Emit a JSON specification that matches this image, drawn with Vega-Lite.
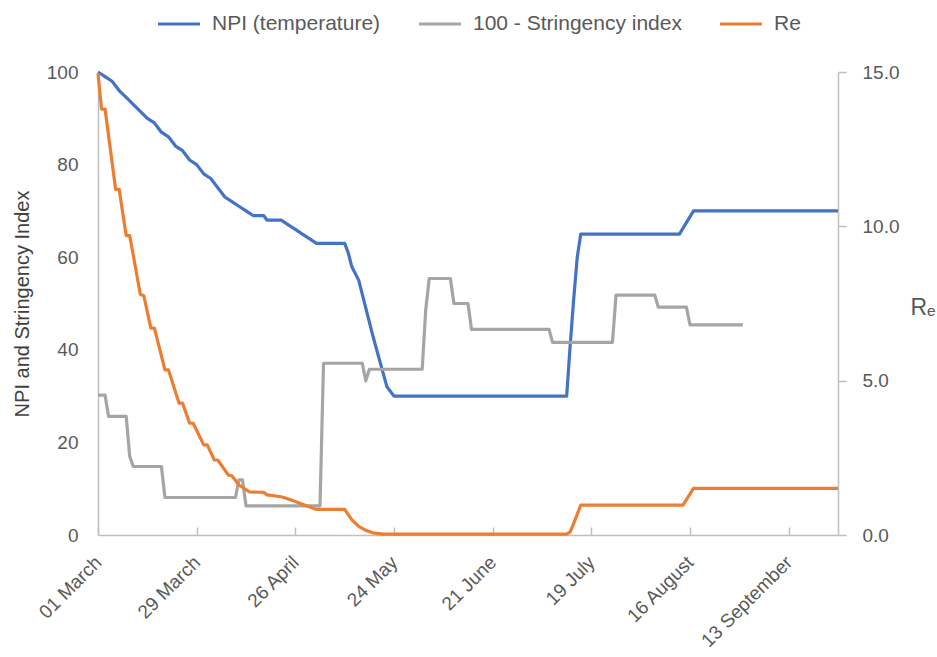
{
  "$schema": "https://vega.github.io/schema/vega-lite/v6.json",
  "width": 740,
  "height": 463,
  "autosize": {"type": "none"},
  "padding": {"left": 98, "top": 72, "right": 99, "bottom": 122},
  "background": "white",
  "config": {
    "font": "Liberation Sans",
    "view": {"stroke": null},
    "axis": {"grid": false, "domainColor": "#bfbfbf", "domainWidth": 1.5, "tickColor": "#bfbfbf", "tickWidth": 1.5, "labelColor": "#595959", "labelFontSize": 19, "titleFontWeight": "normal", "titleFontSize": 20}
  },
  "data": {"values": [
    {"d": "2020-03-01", "s": "NPI (temperature)", "v": 100},
    {"d": "2020-03-03", "s": "NPI (temperature)", "v": 99},
    {"d": "2020-03-05", "s": "NPI (temperature)", "v": 98},
    {"d": "2020-03-07", "s": "NPI (temperature)", "v": 96},
    {"d": "2020-03-09", "s": "NPI (temperature)", "v": 94.5},
    {"d": "2020-03-11", "s": "NPI (temperature)", "v": 93},
    {"d": "2020-03-13", "s": "NPI (temperature)", "v": 91.5},
    {"d": "2020-03-15", "s": "NPI (temperature)", "v": 90},
    {"d": "2020-03-17", "s": "NPI (temperature)", "v": 89},
    {"d": "2020-03-19", "s": "NPI (temperature)", "v": 87},
    {"d": "2020-03-21", "s": "NPI (temperature)", "v": 86},
    {"d": "2020-03-23", "s": "NPI (temperature)", "v": 84},
    {"d": "2020-03-25", "s": "NPI (temperature)", "v": 83},
    {"d": "2020-03-27", "s": "NPI (temperature)", "v": 81},
    {"d": "2020-03-29", "s": "NPI (temperature)", "v": 80},
    {"d": "2020-03-31", "s": "NPI (temperature)", "v": 78},
    {"d": "2020-04-02", "s": "NPI (temperature)", "v": 77},
    {"d": "2020-04-04", "s": "NPI (temperature)", "v": 75},
    {"d": "2020-04-06", "s": "NPI (temperature)", "v": 73},
    {"d": "2020-04-08", "s": "NPI (temperature)", "v": 72},
    {"d": "2020-04-10", "s": "NPI (temperature)", "v": 71},
    {"d": "2020-04-12", "s": "NPI (temperature)", "v": 70},
    {"d": "2020-04-14", "s": "NPI (temperature)", "v": 69},
    {"d": "2020-04-17", "s": "NPI (temperature)", "v": 69},
    {"d": "2020-04-18", "s": "NPI (temperature)", "v": 68},
    {"d": "2020-04-22", "s": "NPI (temperature)", "v": 68},
    {"d": "2020-04-24", "s": "NPI (temperature)", "v": 67},
    {"d": "2020-04-26", "s": "NPI (temperature)", "v": 66},
    {"d": "2020-04-28", "s": "NPI (temperature)", "v": 65},
    {"d": "2020-04-30", "s": "NPI (temperature)", "v": 64},
    {"d": "2020-05-02", "s": "NPI (temperature)", "v": 63},
    {"d": "2020-05-10", "s": "NPI (temperature)", "v": 63},
    {"d": "2020-05-11", "s": "NPI (temperature)", "v": 61},
    {"d": "2020-05-12", "s": "NPI (temperature)", "v": 58},
    {"d": "2020-05-14", "s": "NPI (temperature)", "v": 55},
    {"d": "2020-05-16", "s": "NPI (temperature)", "v": 49},
    {"d": "2020-05-18", "s": "NPI (temperature)", "v": 43},
    {"d": "2020-05-20", "s": "NPI (temperature)", "v": 37.5},
    {"d": "2020-05-22", "s": "NPI (temperature)", "v": 32},
    {"d": "2020-05-24", "s": "NPI (temperature)", "v": 30},
    {"d": "2020-07-12", "s": "NPI (temperature)", "v": 30},
    {"d": "2020-07-13", "s": "NPI (temperature)", "v": 41},
    {"d": "2020-07-14", "s": "NPI (temperature)", "v": 51},
    {"d": "2020-07-15", "s": "NPI (temperature)", "v": 60},
    {"d": "2020-07-16", "s": "NPI (temperature)", "v": 65},
    {"d": "2020-08-13", "s": "NPI (temperature)", "v": 65},
    {"d": "2020-08-17", "s": "NPI (temperature)", "v": 70},
    {"d": "2020-09-27", "s": "NPI (temperature)", "v": 70},

    {"d": "2020-03-01", "s": "100 - Stringency index", "v": 30.2},
    {"d": "2020-03-03", "s": "100 - Stringency index", "v": 30.2},
    {"d": "2020-03-04", "s": "100 - Stringency index", "v": 25.6},
    {"d": "2020-03-09", "s": "100 - Stringency index", "v": 25.6},
    {"d": "2020-03-10", "s": "100 - Stringency index", "v": 17},
    {"d": "2020-03-11", "s": "100 - Stringency index", "v": 14.8},
    {"d": "2020-03-19", "s": "100 - Stringency index", "v": 14.8},
    {"d": "2020-03-20", "s": "100 - Stringency index", "v": 8.1},
    {"d": "2020-04-09", "s": "100 - Stringency index", "v": 8.1},
    {"d": "2020-04-10", "s": "100 - Stringency index", "v": 11.9},
    {"d": "2020-04-11", "s": "100 - Stringency index", "v": 11.9},
    {"d": "2020-04-12", "s": "100 - Stringency index", "v": 6.3},
    {"d": "2020-05-03", "s": "100 - Stringency index", "v": 6.3},
    {"d": "2020-05-04", "s": "100 - Stringency index", "v": 37.1},
    {"d": "2020-05-15", "s": "100 - Stringency index", "v": 37.1},
    {"d": "2020-05-16", "s": "100 - Stringency index", "v": 33.3},
    {"d": "2020-05-17", "s": "100 - Stringency index", "v": 35.8},
    {"d": "2020-06-01", "s": "100 - Stringency index", "v": 35.8},
    {"d": "2020-06-02", "s": "100 - Stringency index", "v": 48.6},
    {"d": "2020-06-03", "s": "100 - Stringency index", "v": 55.4},
    {"d": "2020-06-09", "s": "100 - Stringency index", "v": 55.4},
    {"d": "2020-06-10", "s": "100 - Stringency index", "v": 50},
    {"d": "2020-06-14", "s": "100 - Stringency index", "v": 50},
    {"d": "2020-06-15", "s": "100 - Stringency index", "v": 44.4},
    {"d": "2020-07-07", "s": "100 - Stringency index", "v": 44.4},
    {"d": "2020-07-08", "s": "100 - Stringency index", "v": 41.6},
    {"d": "2020-07-25", "s": "100 - Stringency index", "v": 41.6},
    {"d": "2020-07-26", "s": "100 - Stringency index", "v": 51.8},
    {"d": "2020-08-06", "s": "100 - Stringency index", "v": 51.8},
    {"d": "2020-08-07", "s": "100 - Stringency index", "v": 49.2},
    {"d": "2020-08-15", "s": "100 - Stringency index", "v": 49.2},
    {"d": "2020-08-16", "s": "100 - Stringency index", "v": 45.4},
    {"d": "2020-08-31", "s": "100 - Stringency index", "v": 45.4},

    {"d": "2020-03-01", "s": "Re", "v": 14.96},
    {"d": "2020-03-02", "s": "Re", "v": 13.8},
    {"d": "2020-03-03", "s": "Re", "v": 13.8},
    {"d": "2020-03-06", "s": "Re", "v": 11.2},
    {"d": "2020-03-07", "s": "Re", "v": 11.2},
    {"d": "2020-03-09", "s": "Re", "v": 9.7},
    {"d": "2020-03-10", "s": "Re", "v": 9.7},
    {"d": "2020-03-13", "s": "Re", "v": 7.8},
    {"d": "2020-03-14", "s": "Re", "v": 7.75},
    {"d": "2020-03-16", "s": "Re", "v": 6.7},
    {"d": "2020-03-17", "s": "Re", "v": 6.7},
    {"d": "2020-03-20", "s": "Re", "v": 5.35},
    {"d": "2020-03-21", "s": "Re", "v": 5.35},
    {"d": "2020-03-24", "s": "Re", "v": 4.27},
    {"d": "2020-03-25", "s": "Re", "v": 4.27},
    {"d": "2020-03-27", "s": "Re", "v": 3.62},
    {"d": "2020-03-28", "s": "Re", "v": 3.62},
    {"d": "2020-03-31", "s": "Re", "v": 2.92},
    {"d": "2020-04-01", "s": "Re", "v": 2.92},
    {"d": "2020-04-03", "s": "Re", "v": 2.43},
    {"d": "2020-04-04", "s": "Re", "v": 2.43},
    {"d": "2020-04-07", "s": "Re", "v": 1.94},
    {"d": "2020-04-08", "s": "Re", "v": 1.92},
    {"d": "2020-04-10", "s": "Re", "v": 1.62},
    {"d": "2020-04-13", "s": "Re", "v": 1.4},
    {"d": "2020-04-17", "s": "Re", "v": 1.38},
    {"d": "2020-04-18", "s": "Re", "v": 1.3},
    {"d": "2020-04-22", "s": "Re", "v": 1.24},
    {"d": "2020-04-25", "s": "Re", "v": 1.13},
    {"d": "2020-04-28", "s": "Re", "v": 1.0},
    {"d": "2020-05-02", "s": "Re", "v": 0.83},
    {"d": "2020-05-10", "s": "Re", "v": 0.83},
    {"d": "2020-05-12", "s": "Re", "v": 0.5},
    {"d": "2020-05-14", "s": "Re", "v": 0.28},
    {"d": "2020-05-16", "s": "Re", "v": 0.15},
    {"d": "2020-05-18", "s": "Re", "v": 0.07},
    {"d": "2020-05-21", "s": "Re", "v": 0.03},
    {"d": "2020-07-12", "s": "Re", "v": 0.03},
    {"d": "2020-07-13", "s": "Re", "v": 0.1},
    {"d": "2020-07-14", "s": "Re", "v": 0.38},
    {"d": "2020-07-16", "s": "Re", "v": 0.97},
    {"d": "2020-08-14", "s": "Re", "v": 0.97},
    {"d": "2020-08-17", "s": "Re", "v": 1.51},
    {"d": "2020-09-27", "s": "Re", "v": 1.51}
  ]},
  "encoding": {
    "x": {
      "field": "d", "type": "temporal", "title": null,
      "scale": {"type": "utc", "domain": [{"year": 2020, "month": 3, "date": 1, "utc": true}, {"year": 2020, "month": 9, "date": 27, "utc": true}]},
      "axis": {
        "values": [
          {"year": 2020, "month": 3, "date": 1, "utc": true},
          {"year": 2020, "month": 3, "date": 29, "utc": true},
          {"year": 2020, "month": 4, "date": 26, "utc": true},
          {"year": 2020, "month": 5, "date": 24, "utc": true},
          {"year": 2020, "month": 6, "date": 21, "utc": true},
          {"year": 2020, "month": 7, "date": 19, "utc": true},
          {"year": 2020, "month": 8, "date": 16, "utc": true},
          {"year": 2020, "month": 9, "date": 13, "utc": true}
        ],
        "labelExpr": "utcFormat(datum.value, '%d %B')",
        "labelAngle": -45, "labelAlign": "right", "labelBaseline": "middle",
        "tickSize": -8, "labelPadding": 32, "labelFlush": false, "labelOverlap": false
      }
    }
  },
  "layer": [
    {
      "transform": [{"filter": "datum.s !== 'Re'"}],
      "mark": {"type": "line", "strokeWidth": 3.2, "strokeJoin": "round"},
      "encoding": {
        "y": {
          "field": "v", "type": "quantitative", "title": "NPI and Stringency Index",
          "scale": {"domain": [0, 100], "nice": false},
          "axis": {"values": [0, 20, 40, 60, 80, 100], "ticks": false, "labelPadding": 20, "titleColor": "#404040", "titlePadding": 14, "orient": "left"}
        },
        "color": {
          "field": "s", "type": "nominal",
          "scale": {"domain": ["NPI (temperature)", "100 - Stringency index", "Re"], "range": ["#4472C4", "#A5A5A5", "#ED7D31"]},
          "legend": {"orient": "none", "legendX": 58, "legendY": -71, "direction": "horizontal", "title": null, "symbolType": "stroke", "symbolSize": 1764, "symbolStrokeWidth": 3.2, "labelFontSize": 21, "labelColor": "#595959", "labelLimit": 0, "columnPadding": 31, "labelOffset": 10}
        }
      }
    },
    {
      "transform": [{"filter": "datum.s === 'Re'"}],
      "mark": {"type": "line", "strokeWidth": 3.2, "strokeJoin": "round"},
      "encoding": {
        "y": {
          "field": "v", "type": "quantitative", "title": "Rₑ",
          "scale": {"domain": [0, 15], "nice": false},
          "axis": {"orient": "right", "values": [0, 5, 10, 15], "format": ".1f", "tickSize": 8, "labelPadding": 16, "titleAngle": 0, "titleAlign": "left", "titleBaseline": "middle", "titleX": 72, "titleY": 235, "titleFontSize": 23, "titleColor": "#595959"}
        },
        "color": {"field": "s", "type": "nominal"}
      }
    }
  ],
  "resolve": {"scale": {"y": "independent"}}
}
